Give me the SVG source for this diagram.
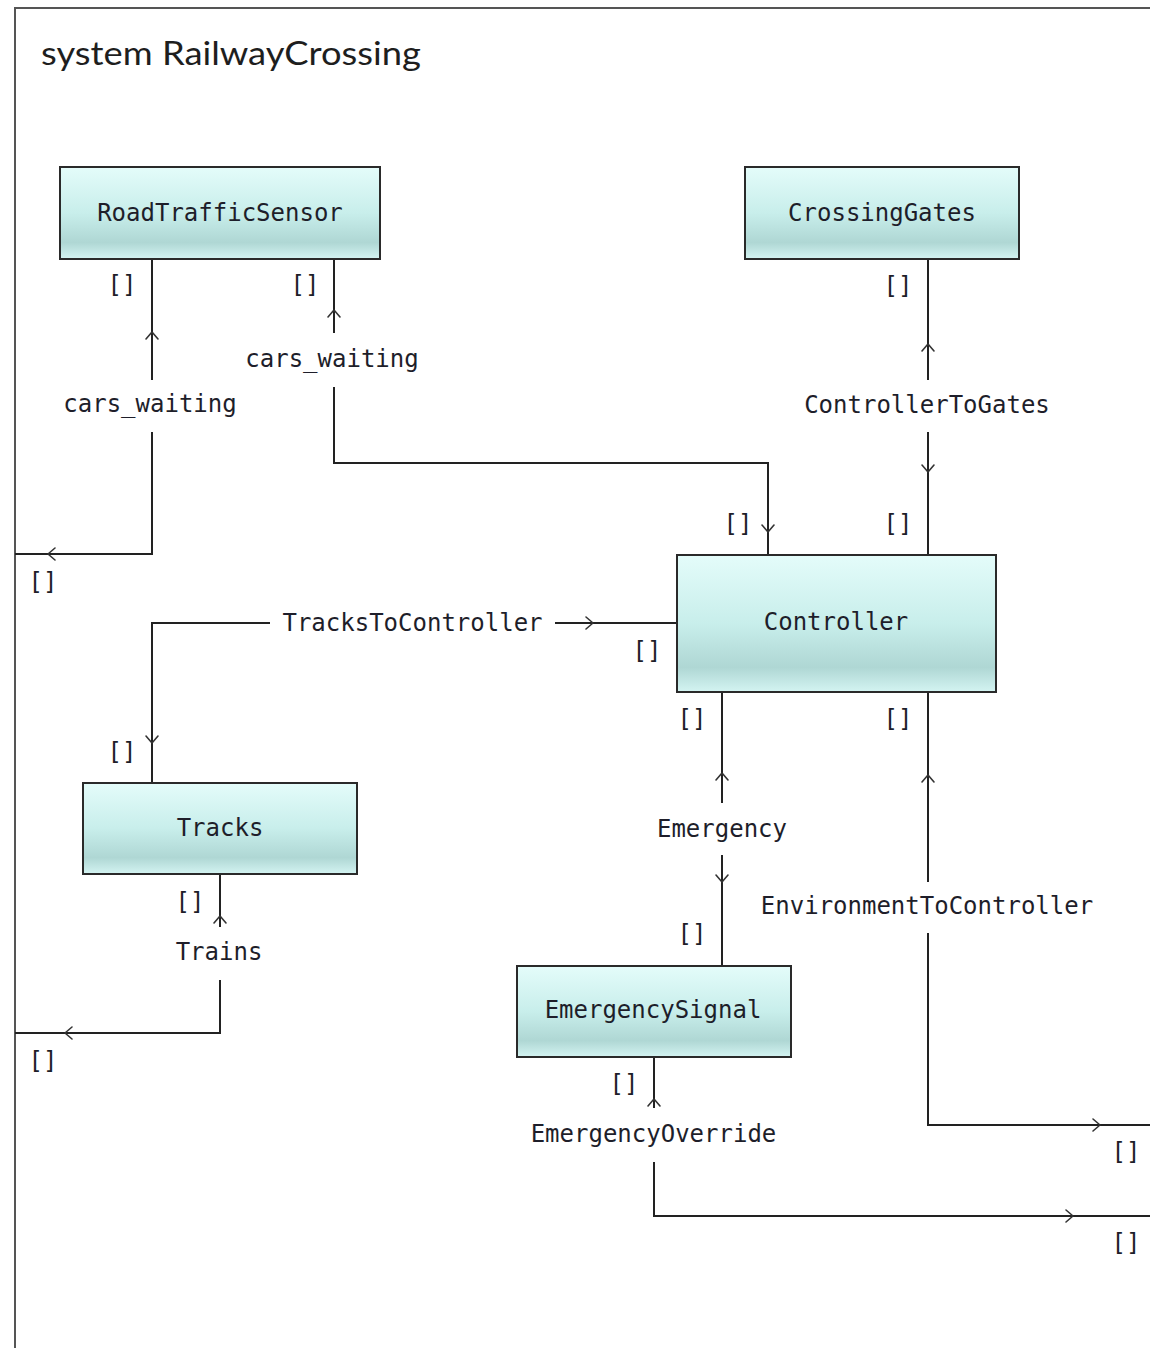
<svg xmlns="http://www.w3.org/2000/svg" xmlns:xlink="http://www.w3.org/1999/xlink" width="1150" height="1348" viewBox="0 0 1150 1348">
<style>
  .frame { fill: none; stroke: #555; stroke-width: 2; }
  .title { font-family: Lato, "Open Sans", "Liberation Sans", sans-serif; font-size: 32px; fill: #1e1e1e; }
  .box { fill: url(#nodeGrad); stroke: #2a2a2a; stroke-width: 2; }
  .ntext { font-family: "DejaVu Sans Mono", "Liberation Mono", monospace; font-size: 24px; fill: #1e1e2a; text-anchor: middle; }
  .lbl { font-family: "DejaVu Sans Mono", "Liberation Mono", monospace; font-size: 24px; fill: #1e1e2a; text-anchor: middle; }
  .port { font-family: "DejaVu Sans Mono", "Liberation Mono", monospace; font-size: 24px; fill: #1e1e2a; text-anchor: middle; }
  .wire { fill: none; stroke: #222; stroke-width: 2; }
  .ah { fill: none; stroke: #333; stroke-width: 1.6; stroke-linecap: round; stroke-linejoin: round; }
</style>
<defs>
  <linearGradient id="nodeGrad" x1="0" y1="0" x2="0" y2="1">
    <stop offset="0" stop-color="#e4fcfa"/>
    <stop offset="0.5" stop-color="#c8eeeb"/>
    <stop offset="0.82" stop-color="#afd7d4"/>
    <stop offset="1" stop-color="#d4f4f2"/>
  </linearGradient>
  <path id="ah" class="ah" d="M-6,7 L0,0 L6,7"/>
</defs>
<rect width="1150" height="1348" fill="#ffffff"/>
<path class="frame" d="M15,1348 V8 H1150"/>
<text class="title" x="41" y="65" textLength="380" lengthAdjust="spacingAndGlyphs">system RailwayCrossing</text>

<g id="connectors">
  <!-- RTS left port cars_waiting -->
  <g id="c1">
    <path class="wire" d="M152,259 V380"/>
    <path class="wire" d="M152,432 V554 H15"/>
    <use xlink:href="#ah" transform="translate(152,332)"/>
    <use xlink:href="#ah" transform="translate(48,554) rotate(-90)"/>
    <text class="lbl" x="150" y="412">cars_waiting</text>
    <text class="port" x="122" y="293">[]</text>
    <text class="port" x="43" y="590">[]</text>
  </g>
  <!-- RTS right port cars_waiting to Controller -->
  <g id="c2">
    <path class="wire" d="M334,259 V333"/>
    <path class="wire" d="M334,387 V463 H768 V555"/>
    <use xlink:href="#ah" transform="translate(334,310)"/>
    <use xlink:href="#ah" transform="translate(768,532) rotate(180)"/>
    <text class="lbl" x="332" y="367">cars_waiting</text>
    <text class="port" x="305" y="293">[]</text>
    <text class="port" x="738" y="532">[]</text>
  </g>
  <!-- ControllerToGates -->
  <g id="c3">
    <path class="wire" d="M928,259 V380"/>
    <path class="wire" d="M928,432 V555"/>
    <use xlink:href="#ah" transform="translate(928,344)"/>
    <use xlink:href="#ah" transform="translate(928,472) rotate(180)"/>
    <text class="lbl" x="927" y="413">ControllerToGates</text>
    <text class="port" x="898" y="294">[]</text>
    <text class="port" x="898" y="532">[]</text>
  </g>
  <!-- TracksToController -->
  <g id="c4">
    <path class="wire" d="M677,623 H555"/>
    <path class="wire" d="M270,623 H152 V783"/>
    <use xlink:href="#ah" transform="translate(593,623) rotate(90)"/>
    <use xlink:href="#ah" transform="translate(152,743) rotate(180)"/>
    <text class="lbl" x="412.5" y="631">TracksToController</text>
    <text class="port" x="647" y="659">[]</text>
    <text class="port" x="122" y="760">[]</text>
  </g>
  <!-- Emergency -->
  <g id="c5">
    <path class="wire" d="M722,692 V803"/>
    <path class="wire" d="M722,855 V966"/>
    <use xlink:href="#ah" transform="translate(722,773)"/>
    <use xlink:href="#ah" transform="translate(722,882) rotate(180)"/>
    <text class="lbl" x="722" y="837">Emergency</text>
    <text class="port" x="692" y="727">[]</text>
    <text class="port" x="692" y="942">[]</text>
  </g>
  <!-- EnvironmentToController -->
  <g id="c6">
    <path class="wire" d="M928,692 V882"/>
    <path class="wire" d="M928,933 V1125 H1150"/>
    <use xlink:href="#ah" transform="translate(928,775)"/>
    <use xlink:href="#ah" transform="translate(1100,1125) rotate(90)"/>
    <text class="lbl" x="927" y="914">EnvironmentToController</text>
    <text class="port" x="898" y="727">[]</text>
    <text class="port" x="1126" y="1160">[]</text>
  </g>
  <!-- Trains -->
  <g id="c7">
    <path class="wire" d="M220,874 V927"/>
    <path class="wire" d="M220,980 V1033 H15"/>
    <use xlink:href="#ah" transform="translate(220,916)"/>
    <use xlink:href="#ah" transform="translate(65,1033) rotate(-90)"/>
    <text class="lbl" x="219" y="960">Trains</text>
    <text class="port" x="190" y="910">[]</text>
    <text class="port" x="43" y="1069">[]</text>
  </g>
  <!-- EmergencyOverride -->
  <g id="c8">
    <path class="wire" d="M654,1057 V1108"/>
    <path class="wire" d="M654,1162 V1216 H1150"/>
    <use xlink:href="#ah" transform="translate(654,1099)"/>
    <use xlink:href="#ah" transform="translate(1073,1216) rotate(90)"/>
    <text class="lbl" x="653.5" y="1142">EmergencyOverride</text>
    <text class="port" x="624" y="1092">[]</text>
    <text class="port" x="1126" y="1251">[]</text>
  </g>
</g>

<g id="RoadTrafficSensor">
  <rect class="box" x="60" y="167" width="320" height="92"/>
  <text class="ntext" x="220" y="221">RoadTrafficSensor</text>
</g>
<g id="CrossingGates">
  <rect class="box" x="745" y="167" width="274" height="92"/>
  <text class="ntext" x="882" y="221">CrossingGates</text>
</g>
<g id="Controller">
  <rect class="box" x="677" y="555" width="319" height="137"/>
  <text class="ntext" x="836" y="630">Controller</text>
</g>
<g id="Tracks">
  <rect class="box" x="83" y="783" width="274" height="91"/>
  <text class="ntext" x="220" y="836">Tracks</text>
</g>
<g id="EmergencySignal">
  <rect class="box" x="517" y="966" width="274" height="91"/>
  <text class="ntext" x="653" y="1018">EmergencySignal</text>
</g>
</svg>
